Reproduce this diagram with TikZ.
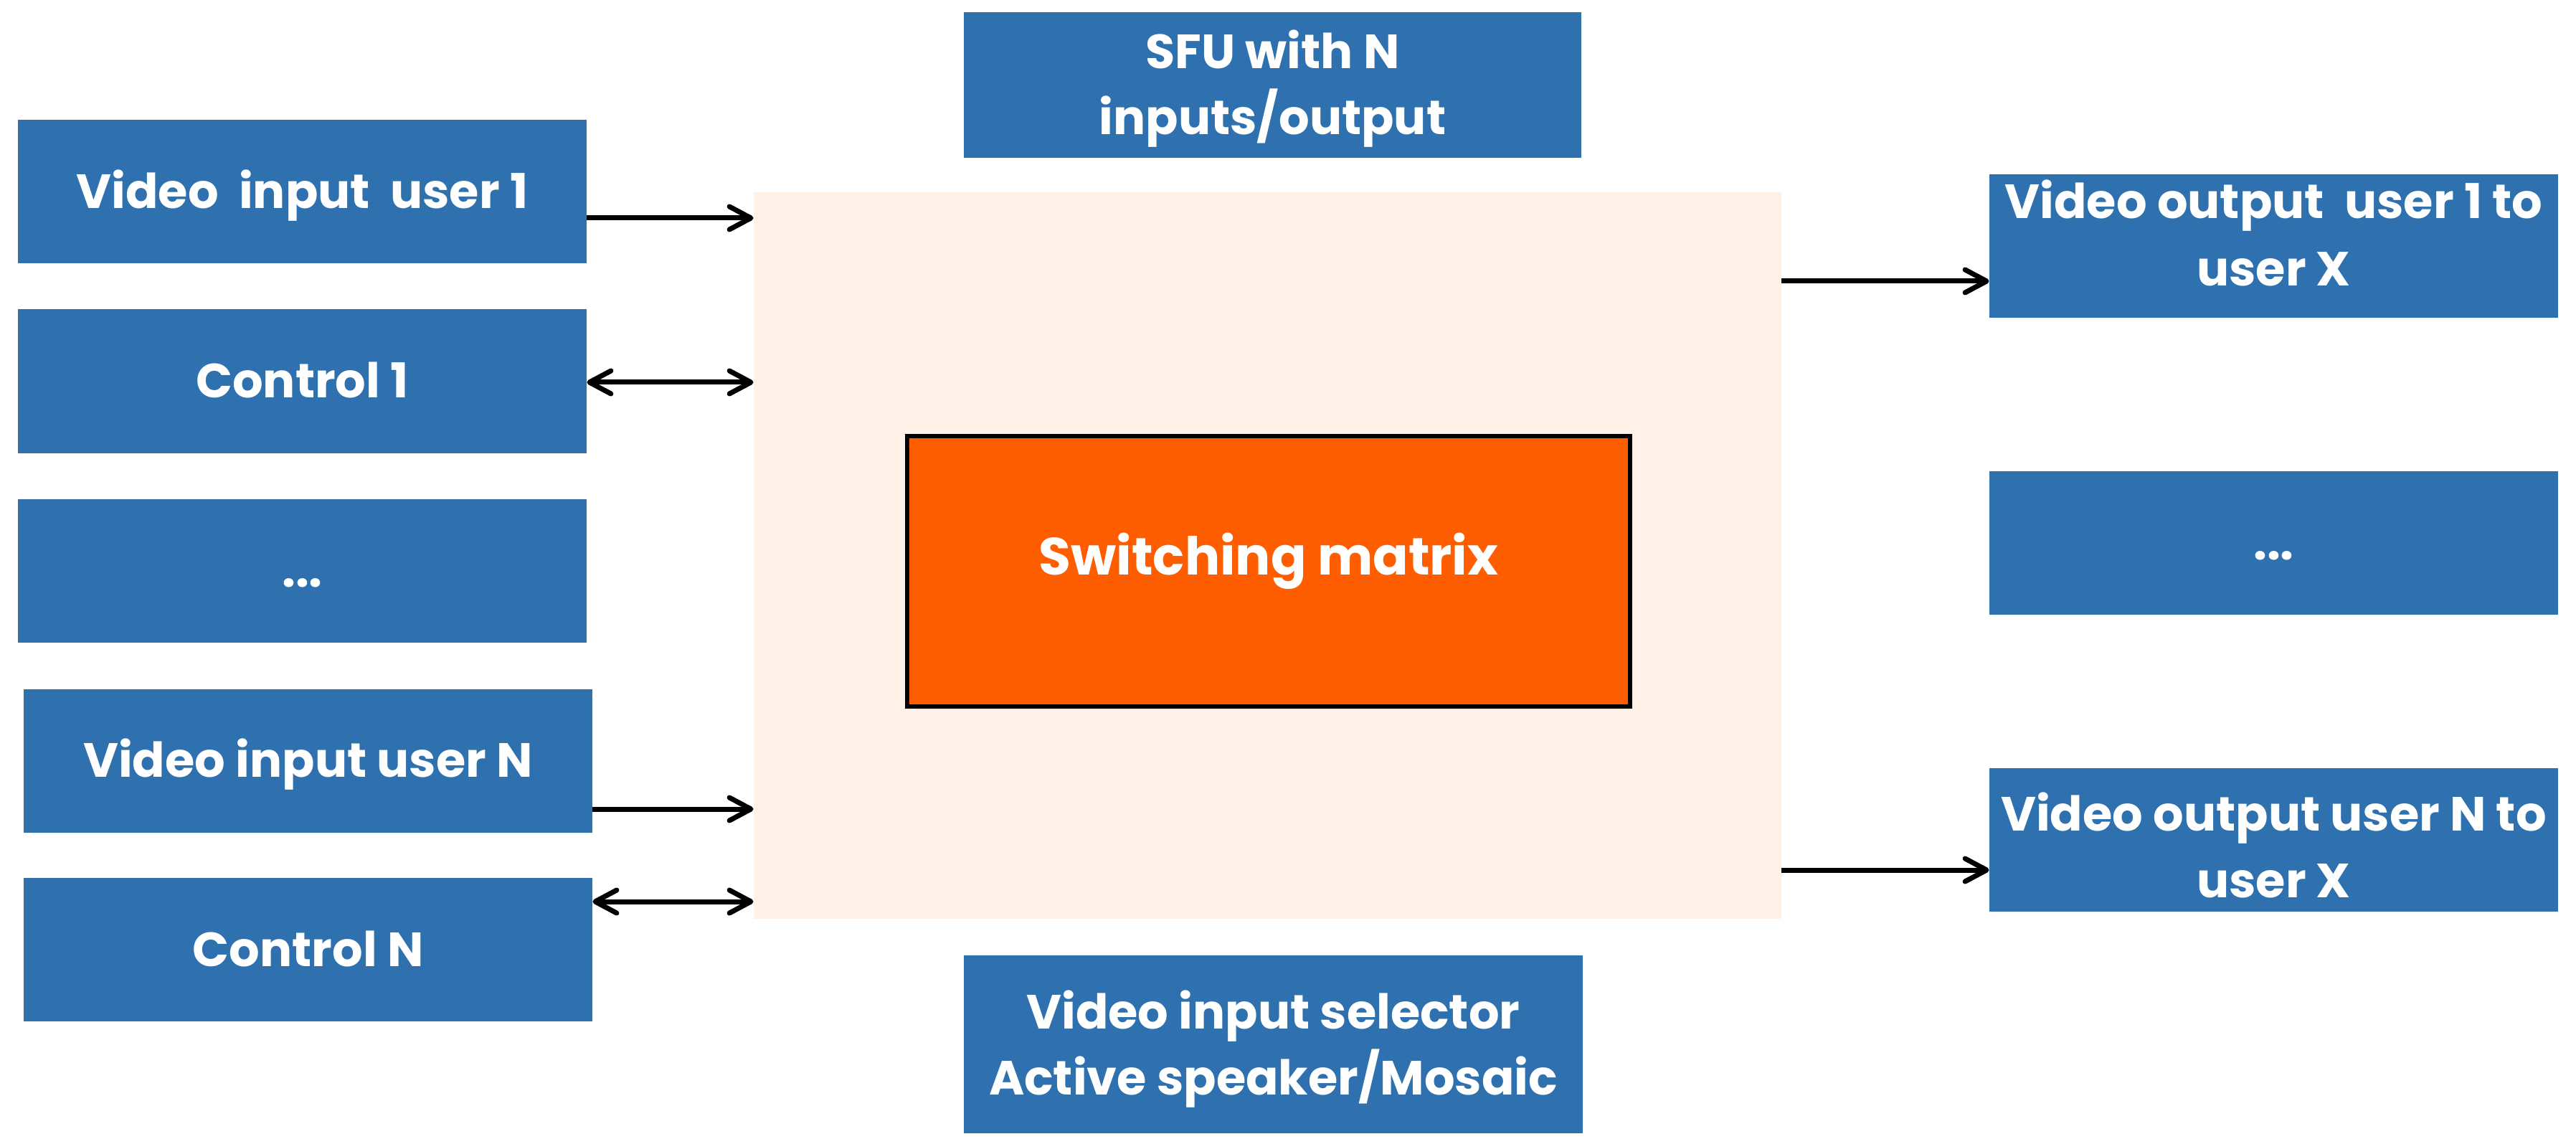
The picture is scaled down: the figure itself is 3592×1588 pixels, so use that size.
\documentclass[tikz,border=0pt]{standalone}
\usepackage{fontspec}
\setmainfont{Poppins}
\usetikzlibrary{arrows.meta}
\definecolor{boxblue}{HTML}{2F70AF}
\definecolor{peach}{HTML}{FFF0E8}
\definecolor{orangeM}{HTML}{FF5E00}
\newcommand\twolines[2]{\begin{tabular}[t]{@{}c@{}}#1\\#2\end{tabular}}
\tikzset{
  bluebox/.style={fill=boxblue, text=white, inner sep=0pt,
    font=\fontsize{33.5pt}{46pt}\selectfont\bfseries, minimum width=396.5pt, minimum height=100pt,
    text height=23.5pt, text depth=0pt},
  twobox/.style={bluebox, text height=0pt, text depth=#1},
  conn/.style={line width=3.5pt, draw=black, -{Straight Barb[length=15pt,width=16pt,line cap=round,round]}},
  biconn/.style={line width=3.5pt, draw=black, {Straight Barb[length=15pt,width=16pt,line cap=round,round]}-{Straight Barb[length=15pt,width=16pt,line cap=round,round]}},
}
\begin{document}
\begin{tikzpicture}[x=0.5pt,y=-0.5pt]
\useasboundingbox[fill=white] (0,0) rectangle (3592,1588);
% peach container
\node[fill=peach, inner sep=0pt, minimum width=716.5pt, minimum height=506.5pt] (peach) at (1767.5,774.5) {};
% switching matrix
\node[fill=orangeM, draw=black, line width=3pt, inner sep=0pt, minimum width=504pt, minimum height=188.5pt,
  text=white, font=\fontsize{36.5pt}{46pt}\selectfont\bfseries, text height=4.5pt, text depth=0pt] (sw) at (1769,796.5) {Switching matrix};
% top and bottom
\node[twobox=22.5pt, minimum width=430.5pt, minimum height=101.5pt] (sfu) at (1774.5,118.5) {\twolines{SFU with N}{inputs/output}};
\node[twobox=22pt, minimum width=431.5pt, minimum height=124pt] (sel) at (1775.5,1456) {\twolines{Video input selector}{Active speaker/Mosaic}};
% left column
\node[bluebox, text height=24pt] (v1) at (421.5,267) {Video\ \ input\ \ user 1};
\node[bluebox] (c1) at (421.5,531.5) {Control 1};
\node[bluebox, text height=22.5pt] (d1) at (421.5,796) {...};
\node[bluebox, text height=22.5pt] (vN) at (429.5,1060.5) {Video input user N};
\node[bluebox] (cN) at (429.5,1323.5) {Control N};
% right column
\node[twobox=38.5pt, font=\fontsize{33.5pt}{47pt}\selectfont\bfseries] (o1) at (3170.5,343.5) {\twolines{Video output\ \ user 1 to}{user X}};
\node[bluebox] (od) at (3170.5,756.5) {...};
\node[twobox=12.5pt, font=\fontsize{33.5pt}{46.5pt}\selectfont\bfseries] (oN) at (3170.5,1170.5) {\twolines{Video output user N to}{user X}};
% helper y levels
\coordinate (yv1) at (0,304);
\coordinate (yc1) at (0,533);
\coordinate (yvN) at (0,1128);
\coordinate (ycN) at (0,1257);
\coordinate (yo1) at (0,392);
\coordinate (yoN) at (0,1213);
% connectors
\draw[conn] (v1.east |- yv1) -- (peach.west |- yv1);
\draw[biconn] (c1.east |- yc1) -- (peach.west |- yc1);
\draw[conn] (vN.east |- yvN) -- (peach.west |- yvN);
\draw[biconn] (cN.east |- ycN) -- (peach.west |- ycN);
\draw[conn] (peach.east |- yo1) -- (o1.west |- yo1);
\draw[conn] (peach.east |- yoN) -- (oN.west |- yoN);
\end{tikzpicture}
\end{document}
